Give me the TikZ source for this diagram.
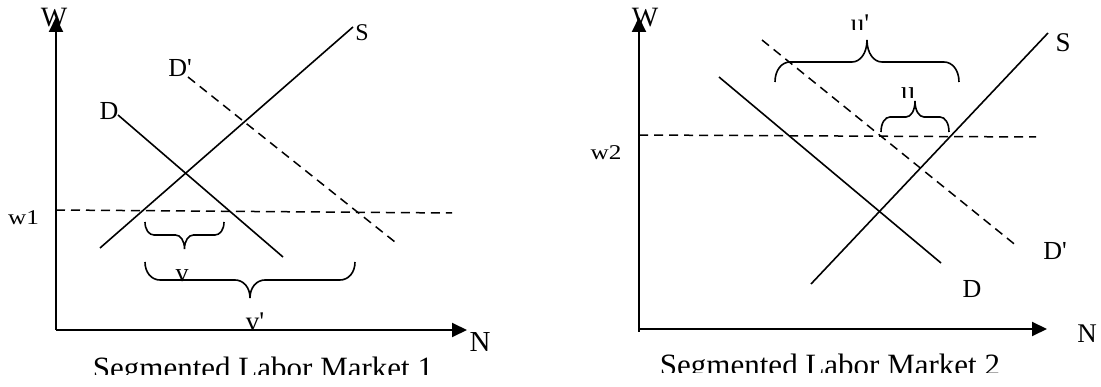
\documentclass[tikz,border=0pt]{standalone}
\usepackage{fontspec}
\setmainfont{Liberation Serif}[Ligatures=TeXOff]
\usetikzlibrary{arrows.meta}
\newcommand{\fsz}[1]{\fontsize{#1}{#1}\selectfont}
% x1 x2 yend ymid ytip r
\newcommand{\mybrace}[6]{%
 \draw[bracestyle] (#1,#3) .. controls (#1,{#3+0.6*(#4-#3)}) and ({#1+0.45*#6},#4) .. ({#1+#6},#4)
   -- ({(#1+#2)/2-#6},#4) .. controls ({(#1+#2)/2-0.45*#6},#4) and ({(#1+#2)/2},{#4+0.4*(#5-#4)}) .. ({(#1+#2)/2},#5)
   .. controls ({(#1+#2)/2},{#4+0.4*(#5-#4)}) and ({(#1+#2)/2+0.45*#6},#4) .. ({(#1+#2)/2+#6},#4)
   -- ({#2-#6},#4) .. controls ({#2-0.45*#6},#4) and (#2,{#3+0.6*(#4-#3)}) .. (#2,#3);}
\begin{document}
\begin{tikzpicture}[x=1pt,y=-1pt,
  lbl/.style={anchor=base,inner sep=0pt,outer sep=0pt},
  curve/.style={line width=1.6pt},
  dashline/.style={line width=1.5pt,dash pattern=on 9pt off 6pt},
  axis/.style={line width=2pt,-{Triangle[length=15pt,width=14pt]}},
  bracestyle/.style={line width=1.6pt}]
\useasboundingbox (0,0) rectangle (1101,387);
% ---------------- Panel 1 ----------------
\coordinate (o1) at (56,330);
\coordinate (ytop1) at (56,17);
\coordinate (xend1) at (467,330);
\node[lbl,font=\fsz{28}] (W1) at (54,27) {W};
\node[lbl,font=\fsz{29}] (N1) at (480,352) {N};
\draw[axis] (o1) -- (ytop1);
\draw[axis] (o1) -- (xend1);
\coordinate (S1a) at (100,248);
\coordinate (S1b) at (353,27);
\coordinate (D1a) at (118,115);
\coordinate (D1b) at (283,257);
\coordinate (Dp1a) at (188,77);
\coordinate (Dp1b) at (395,242);
\coordinate (w1a) at (56,210);
\coordinate (w1b) at (452,213);
\draw[curve] (S1a) -- (S1b);
\draw[curve] (D1a) -- (D1b);
\draw[dashline] (Dp1a) -- (Dp1b);
\draw[dashline] (w1a) -- (w1b);
\node[lbl,font=\fsz{24}] (S1) at (362,41) {S};
\node[lbl,font=\fsz{26}] (D1) at (109,120) {D};
\node[lbl,font=\fsz{26}] (Dp1) at (180,77) {D'};
\node[lbl,font=\fsz{21},xscale=1.2] (w1) at (23.5,225) {w1};
\mybrace{145}{224}{222}{235}{249}{9}
\mybrace{145}{355}{262}{280}{298}{15}
\node[lbl,font=\fsz{26}] (v) at (182,282) {v};
\node[lbl,font=\fsz{27}] (vp) at (255,331) {v'};
\begin{scope}
\clip (0,0) rectangle (560,375);
\node[lbl,font=\fsz{31}] (T1) at (263,378.5) {Segmented Labor Market 1};
\end{scope}
% ---------------- Panel 2 ----------------
\coordinate (o2) at (639,329);
\coordinate (ytop2) at (639,17);
\coordinate (xend2) at (1047,329);
\node[lbl,font=\fsz{28}] (W2) at (645,27) {W};
\node[lbl,font=\fsz{27}] (N2) at (1087,343) {N};
\draw[line width=2pt] (o2) -- ++(0,3);
\draw[axis] (o2) -- (ytop2);
\draw[axis] (o2) -- (xend2);
\coordinate (S2a) at (811,284);
\coordinate (S2b) at (1048,33);
\coordinate (D2a) at (719,77);
\coordinate (D2b) at (941,263);
\coordinate (Dp2a) at (762,40);
\coordinate (Dp2b) at (1018,247);
\coordinate (w2a) at (639,135);
\coordinate (w2b) at (1036,137);
\draw[curve] (S2a) -- (S2b);
\draw[curve] (D2a) -- (D2b);
\draw[dashline] (Dp2a) -- (Dp2b);
\draw[dashline] (w2a) -- (w2b);
\node[lbl,font=\fsz{27}] (S2) at (1063,52) {S};
\node[lbl,font=\fsz{26}] (D2) at (972,297.5) {D};
\node[lbl,font=\fsz{26}] (Dp2) at (1055,260) {D'};
\node[lbl,font=\fsz{21},xscale=1.2] (w2) at (606,160) {w2};
\mybrace{775}{959}{82}{62}{40}{15}
\mybrace{881}{949}{132}{117}{101}{9}
\begin{scope}
\clip (760,0) rectangle (900,30);
\node[lbl,font=\fsz{27}] (up) at (860,33) {u'};
\end{scope}
\begin{scope}
\clip (880,60) rectangle (940,98);
\node[lbl,font=\fsz{28}] (u) at (908,101) {u};
\end{scope}
\begin{scope}
\clip (560,0) rectangle (1101,373);
\node[lbl,font=\fsz{31}] (T2) at (830,376) {Segmented Labor Market 2};
\end{scope}
\end{tikzpicture}
\end{document}
